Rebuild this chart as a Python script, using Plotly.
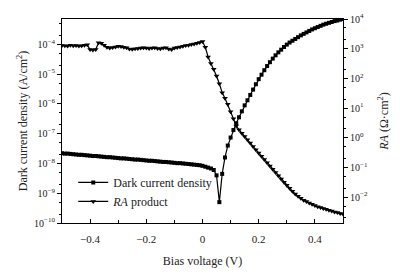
import plotly.graph_objects as go

# Bias voltage (V), step 0.01 V
bias_voltage = [round(-0.50 + 0.01 * i, 2) for i in range(101)]

# log10 of dark current density (A/cm^2)
dark_current_log10 = [
    -7.66, -7.67, -7.67, -7.68, -7.69, -7.70, -7.71, -7.71, -7.72, -7.73,
    -7.74, -7.75, -7.75, -7.76, -7.77, -7.78, -7.79, -7.79, -7.80, -7.81,
    -7.82, -7.83, -7.83, -7.84, -7.85, -7.86, -7.87, -7.87, -7.88, -7.89,
    -7.90, -7.91, -7.91, -7.92, -7.93, -7.94, -7.95, -7.95, -7.96, -7.97,
    -7.98, -7.99, -7.99, -8.00, -8.01, -8.02, -8.03, -8.04, -8.05, -8.06,
    -8.08,
    -8.11, -8.14, -8.17, -8.22, -8.40, -9.30, -8.35, -7.80, -7.40, -7.13,
    -6.88, -6.65, -6.45, -6.25, -6.05, -5.88, -5.70, -5.52, -5.34, -5.17,
    -5.02, -4.87, -4.73, -4.60, -4.48, -4.37, -4.27, -4.18, -4.09, -4.01,
    -3.94, -3.88, -3.82, -3.76, -3.70, -3.65, -3.60, -3.55, -3.50, -3.46,
    -3.42, -3.38, -3.34, -3.31, -3.28, -3.25, -3.22, -3.20, -3.17, -3.15,
]

# log10 of RA product (Ohm cm^2)
ra_log10 = [
    3.11, 3.10, 3.09, 3.12, 3.10, 3.11, 3.09, 3.10, 3.12,
    3.13, 2.97, 2.96, 2.97,
    3.20, 3.18, 3.12,
    3.05, 3.02, 3.04, 3.06,
    3.08, 3.07, 3.05, 3.03,
    2.99, 2.98, 3.00, 3.01, 3.02, 3.03, 3.02,
    3.01, 3.02, 3.03, 3.01, 3.00, 3.02, 3.03, 2.99, 2.97,
    3.02, 3.04, 3.06, 3.08, 3.11, 3.12, 3.14, 3.16, 3.18, 3.21,
    3.24,
    3.05, 2.72, 2.50, 2.31, 2.08, 1.82, 1.52, 1.33, 1.13, 0.88,
    0.64, 0.40, 0.27, 0.15, 0.04, -0.07, -0.18, -0.29, -0.40, -0.51,
    -0.62, -0.73, -0.84, -0.95, -1.06, -1.17, -1.28, -1.39, -1.50, -1.60,
    -1.70, -1.80, -1.89, -1.97, -2.04, -2.10, -2.15, -2.20, -2.24, -2.28,
    -2.32, -2.35, -2.38, -2.41, -2.44, -2.47, -2.50, -2.52, -2.55, -2.57,
]

dark_current = [10 ** v for v in dark_current_log10]
ra_product = [10 ** v for v in ra_log10]

left_exps = [-10, -9, -8, -7, -6, -5, -4]
right_exps = [-2, -1, 0, 1, 2, 3, 4]
x_ticks = [-0.4, -0.2, 0, 0.2, 0.4]
x_ticktext = ["\u22120.4", "\u22120.2", "0", "0.2", "0.4"]

def sup(e):
    s = str(e).replace("-", "\u2212")
    return "10<sup>" + s + "</sup>"

FONT = "Liberation Serif, Times New Roman, serif"

fig = go.Figure()
fig.add_trace(go.Scatter(
    x=bias_voltage, y=dark_current, mode="lines+markers",
    name="Dark current density",
    line=dict(color="black", width=1.2),
    marker=dict(symbol="square", size=4, color="black"),
))
fig.add_trace(go.Scatter(
    x=bias_voltage, y=ra_product, mode="lines+markers",
    name="<i>RA</i> product", yaxis="y2",
    line=dict(color="black", width=1.2),
    marker=dict(symbol="triangle-down", size=5, color="black"),
))

fig.update_layout(
    width=400, height=278,
    margin=dict(l=62, r=55, t=15, b=54),
    paper_bgcolor="white", plot_bgcolor="white",
    font=dict(family=FONT, size=10, color="#222"),
    showlegend=True,
    legend=dict(x=0.04, y=0.27, xanchor="left", yanchor="top",
                bgcolor="rgba(0,0,0,0)", font=dict(size=12, family=FONT),
                tracegroupgap=0, itemwidth=30),
    xaxis=dict(
        range=[-0.5, 0.5], tickvals=x_ticks, ticktext=x_ticktext,
        ticks="inside", ticklen=4, tickcolor="black",
        minor=dict(dtick=0.1, tick0=0, ticks="inside", ticklen=3, tickcolor="black"),
        showline=True, linecolor="black", linewidth=1.2, mirror=True,
        showgrid=False, zeroline=False,
        title=dict(text="Bias voltage (V)", font=dict(size=12), standoff=12),
        tickfont=dict(size=11), ticklabelstandoff=6,
    ),
    yaxis=dict(
        type="log", range=[-10, -3.15],
        tickvals=[10 ** e for e in left_exps], ticktext=[sup(e) for e in left_exps],
        ticks="outside", ticklen=4, tickcolor="black",
        minor=dict(ticks="outside", ticklen=2, tickcolor="black", showgrid=False),
        showline=True, linecolor="black", linewidth=1.2,
        showgrid=False, zeroline=False,
        title=dict(text="Dark current density (A/cm<sup>2</sup>)", font=dict(size=12), standoff=3),
        tickfont=dict(size=10),
    ),
    yaxis2=dict(
        type="log", range=[-2.87, 4], overlaying="y", side="right",
        tickvals=[10 ** e for e in right_exps], ticktext=[sup(e) for e in right_exps],
        ticks="outside", ticklen=4, tickcolor="black",
        minor=dict(ticks="outside", ticklen=2, tickcolor="black", showgrid=False),
        showline=True, linecolor="black", linewidth=1.2,
        showgrid=False, zeroline=False,
        title=dict(text="<i>RA</i> (\u03a9\u00b7cm<sup>2</sup>)", font=dict(size=12), standoff=12),
        tickfont=dict(size=10),
    ),
)

fig.write_html("out.html")
